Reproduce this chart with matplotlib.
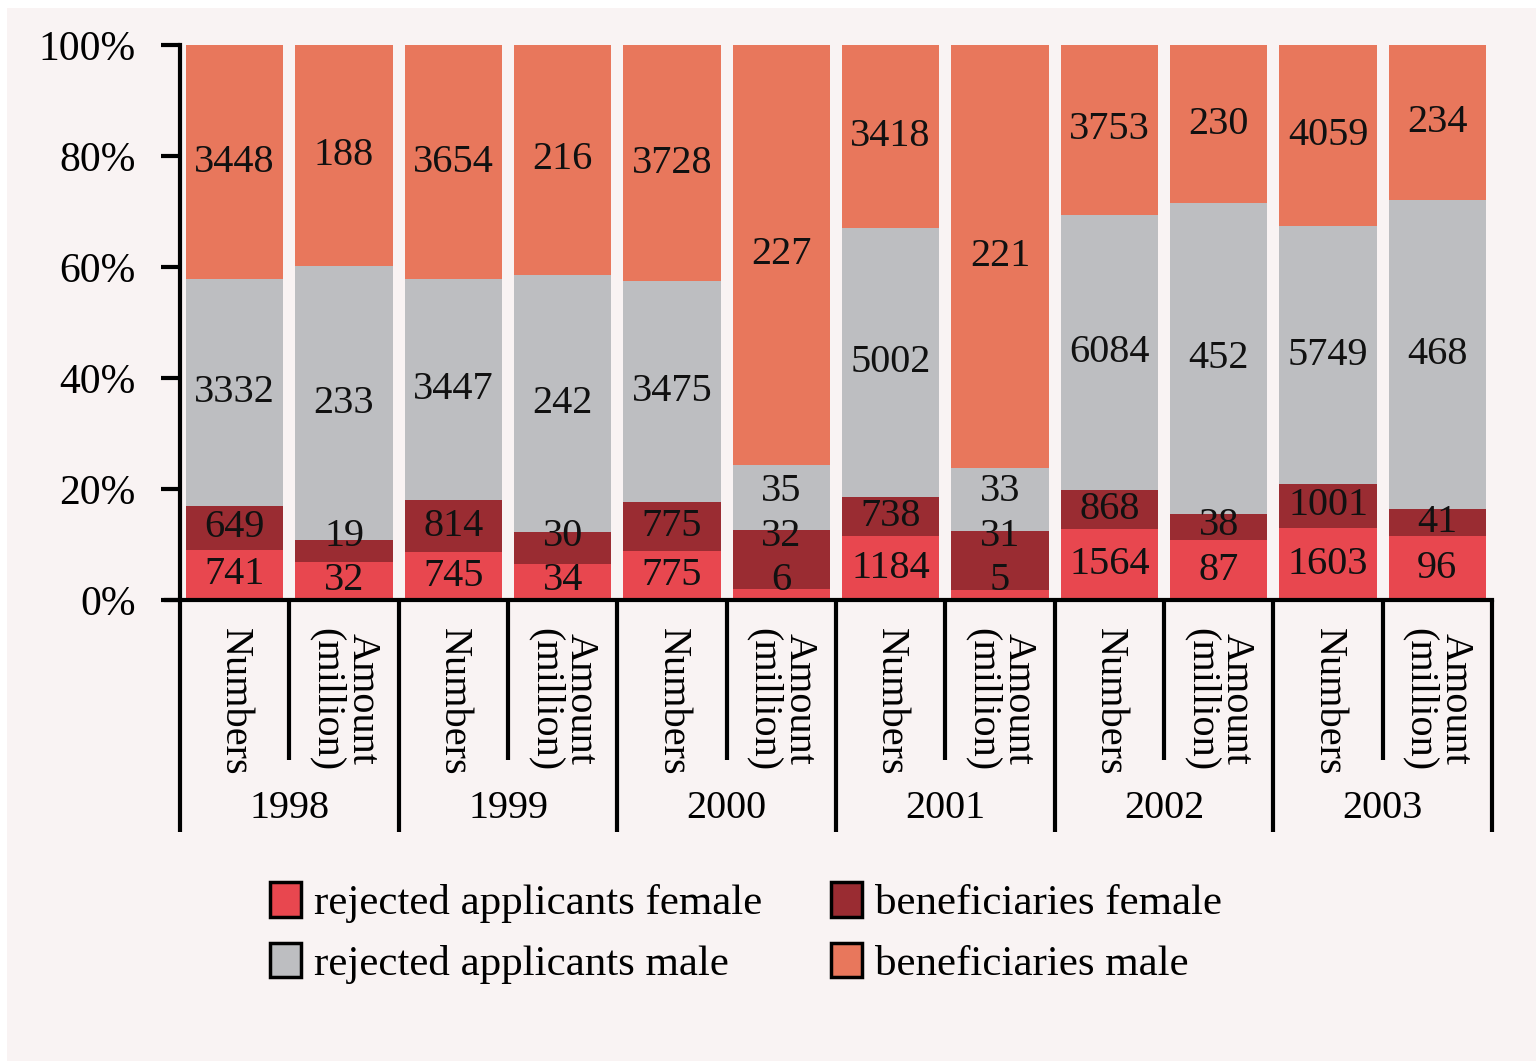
import numpy as np
import matplotlib
matplotlib.use("Agg")
import matplotlib.pyplot as plt
from matplotlib.patches import Patch, Rectangle

# data (bottom -> top of each bar)
years = ["1998", "1999", "2000", "2001", "2002", "2003"]
bar_labels = ["Numbers", "Amount\n(million)"] * 6
rejected_female = [741, 32, 745, 34, 775, 6, 1184, 5, 1564, 87, 1603, 96]
benef_female = [649, 19, 814, 30, 775, 32, 738, 31, 868, 38, 1001, 41]
rejected_male = [3332, 233, 3447, 242, 3475, 35, 5002, 33, 6084, 452, 5749, 468]
benef_male = [3448, 188, 3654, 216, 3728, 227, 3418, 221, 3753, 230, 4059, 234]

series = [rejected_female, benef_female, rejected_male, benef_male]
names = ["rejected applicants female", "beneficiaries female",
         "rejected applicants male", "beneficiaries male"]
colors = ["#E8474F", "#9A2C32", "#BDBEC1", "#E8775C"]

bg = "#F9F3F3"
plt.rcParams["font.family"] = ["Liberation Serif", "DejaVu Serif"]
fs = 29

fig = plt.figure(figsize=(15.36, 10.61), dpi=100)
fig.patch.set_facecolor("white")
fig.patches.append(Rectangle((7 / 1536, 0), 1, 1 - 8 / 1061, transform=fig.transFigure,
                             facecolor=bg, edgecolor="none", zorder=-10))

ax = fig.add_axes([180 / 1536, 1 - 600 / 1061, 1312 / 1536, 555 / 1061])
ax.set_facecolor("none")

vals = np.array(series, dtype=float)
pct = vals / vals.sum(axis=0)
x = np.arange(len(bar_labels))
bottom = np.zeros(len(x))
for k in range(4):
    ax.bar(x, pct[k], 0.89, bottom=bottom, color=colors[k], edgecolor="none")
    bottom += pct[k]

# value labels, nudged apart when segments are thin
cum = np.cumsum(pct, axis=0)
for i in range(len(x)):
    prev = -1
    for k in range(4):
        lo = cum[k - 1, i] if k > 0 else 0
        c = (lo + cum[k, i]) / 2
        y = max(c, 0.035) if k == 0 else max(c, prev + 0.08)
        prev = y
        ax.text(x[i], y, str(int(vals[k, i])), ha="center", va="center",
                fontsize=fs, color="#111111")

ax.set_xlim(-0.5, len(x) - 0.5)
ax.set_ylim(0, 1)
ax.set_yticks(np.linspace(0, 1, 6))
ax.set_yticklabels([f"{int(v)}%" for v in np.linspace(0, 100, 6)], fontsize=30)
ax.tick_params(axis="y", length=14, width=3, pad=18)
ax.set_xticks(x)
ax.set_xticklabels(bar_labels, rotation=270, va="top", ha="center",
                   fontsize=fs, linespacing=0.95)
ax.tick_params(axis="x", length=0, pad=20)
for s in ["top", "right"]:
    ax.spines[s].set_visible(False)
ax.spines["left"].set_linewidth(3)
ax.spines["bottom"].set_linewidth(3)
ax.spines["bottom"].set_bounds(-0.5 - 14 / 109.33, len(x) - 0.5)

# separators and year labels under the axis
tr = ax.get_xaxis_transform()
for j in range(len(years) + 1):
    ax.plot([2 * j - 0.5] * 2, [0, -232 / 555], color="black", lw=3,
            transform=tr, clip_on=False, solid_capstyle="butt")
for j, yr in enumerate(years):
    ax.plot([2 * j + 0.5] * 2, [0, -160 / 555], color="black", lw=3,
            transform=tr, clip_on=False, solid_capstyle="butt")
    ax.text(2 * j + 0.5, -208 / 555, yr, transform=tr, ha="center",
            va="center", fontsize=fs)

order = [0, 2, 1, 3]
handles = [Patch(facecolor=colors[k], edgecolor="black", linewidth=2.5) for k in order]
fig.legend(handles, [names[k] for k in order], ncol=2, loc="upper left",
           bbox_to_anchor=(253 / 1536, 1 - 865 / 1061), frameon=False,
           fontsize=31, handlelength=0.72, handleheight=0.85, handletextpad=0.3,
           columnspacing=1.6, labelspacing=0.45, borderaxespad=0)

fig.savefig("out.png", dpi=100, facecolor=fig.get_facecolor())
